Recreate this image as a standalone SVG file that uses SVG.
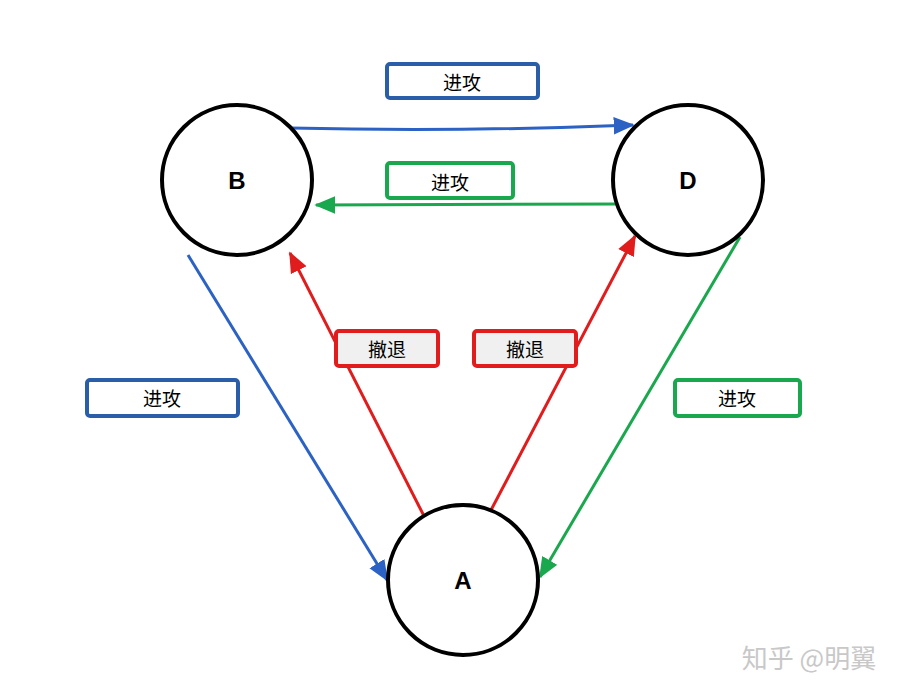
<svg xmlns="http://www.w3.org/2000/svg" width="901" height="694" viewBox="0 0 901 694">
<style>
.node circle{fill:#fff;stroke:#000;stroke-width:4}
.node text{font-family:"Liberation Sans","Noto Sans",Arial,sans-serif;font-weight:bold;font-size:24px;text-anchor:middle;dominant-baseline:central;fill:#000}
.lbl text{font-family:"Noto Sans CJK SC","Noto Sans",sans-serif;font-size:19px;text-anchor:middle;dominant-baseline:central;fill:#000}
.lbl rect{stroke-width:4;rx:3}
.blue{stroke:#2b5ea8}
.green{stroke:#1aa84e}
.red{stroke:#e01c1c}
.edge{fill:none;stroke-width:3}
</style>
<defs>
<marker id="ab" viewBox="0 0 12 10" refX="11" refY="5" markerWidth="7" markerHeight="6" orient="auto" markerUnits="strokeWidth"><path d="M0,0 L12,5 L0,10 z" fill="#2b62c4"/></marker>
<marker id="ag" viewBox="0 0 12 10" refX="11" refY="5" markerWidth="7" markerHeight="6" orient="auto" markerUnits="strokeWidth"><path d="M0,0 L12,5 L0,10 z" fill="#1aa84e"/></marker>
<marker id="ar" viewBox="0 0 12 10" refX="11" refY="5" markerWidth="7" markerHeight="6" orient="auto" markerUnits="strokeWidth"><path d="M0,0 L12,5 L0,10 z" fill="#e01c1c"/></marker>
</defs>
<rect width="901" height="694" fill="#fff"/>
<g id="connectors">
<path class="edge" stroke="#2b62c4" d="M290,128 Q460,132 633,125" marker-end="url(#ab)"/>
<path class="edge" stroke="#1aa84e" d="M620,204 Q470,205 316,205" marker-end="url(#ag)"/>
<path class="edge" stroke="#2b62c4" d="M188,255 L387,580" marker-end="url(#ab)"/>
<path class="edge" stroke="#1aa84e" d="M740,237 L540,577" marker-end="url(#ag)"/>
<path class="edge" stroke="#e01c1c" d="M424,516 L290,253" marker-end="url(#ar)"/>
<path class="edge" stroke="#e01c1c" d="M490,512 L635,236" marker-end="url(#ar)"/>
</g>
<g id="label-bd" class="lbl"><rect class="blue" x="387" y="64" width="151" height="34" fill="#fff"/><text x="462" y="81">进攻</text></g>
<g id="label-db" class="lbl"><rect class="green" x="387" y="163" width="126" height="35" fill="#fff"/><text x="450" y="181">进攻</text></g>
<g id="label-ab" class="lbl"><rect class="red" x="336" y="331" width="102" height="35" fill="#f0f0f0"/><text x="387" y="348">撤退</text></g>
<g id="label-ad" class="lbl"><rect class="red" x="474" y="331" width="102" height="35" fill="#f0f0f0"/><text x="525" y="348">撤退</text></g>
<g id="label-ba" class="lbl"><rect class="blue" x="87" y="380" width="151" height="36" fill="#fff"/><text x="162" y="397">进攻</text></g>
<g id="label-da" class="lbl"><rect class="green" x="675" y="380" width="125" height="36" fill="#fff"/><text x="737" y="397">进攻</text></g>
<g id="node-B" class="node"><circle cx="237" cy="180" r="75"/><text x="237" y="180">B</text></g>
<g id="node-D" class="node"><circle cx="688" cy="180" r="75"/><text x="688" y="180">D</text></g>
<g id="node-A" class="node"><circle cx="463" cy="580" r="75"/><text x="463" y="580">A</text></g>
<text x="809" y="656" font-family="Noto Sans CJK SC,sans-serif" font-size="26" fill="#c8c8c8" text-anchor="middle" dominant-baseline="central">知乎 @明翼</text>
</svg>
